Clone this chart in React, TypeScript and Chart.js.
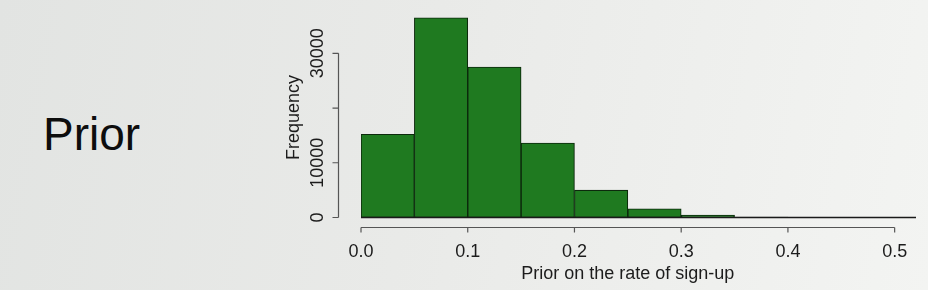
import React, { useEffect, useRef } from "react";
import { Chart, registerables } from "chart.js";

Chart.register(...registerables);

// ---- data ----
const binStarts = [0, 0.05, 0.1, 0.15, 0.2, 0.25, 0.3, 0.35, 0.4, 0.45, 0.5];
const binWidth = 0.05;
const frequencies = [15200, 36500, 27500, 13600, 5000, 1600, 450, 60, 0, 0, 0];
const xTicks = [0, 0.1, 0.2, 0.3, 0.4, 0.5];
const xTickLabels = ["0.0", "0.1", "0.2", "0.3", "0.4", "0.5"];
const yTicks = [0, 10000, 20000, 30000];
const yTickLabels = ["0", "10000", "", "30000"];
const xTitle = "Prior on the rate of sign-up";
const yTitle = "Frequency";
const slideTitle = "Prior";

const FONT = '"Liberation Sans", Arial, Helvetica, sans-serif';

const rAxesPlugin = {
  id: "rAxes",
  afterDraw(chart: any) {
    const { ctx, scales } = chart;
    const xs = scales.x;
    const ys = scales.y;
    const y0 = ys.getPixelForValue(0);
    ctx.save();

    // baseline of empty bins
    ctx.strokeStyle = "#1a1a1a";
    ctx.lineWidth = 1.3;
    ctx.beginPath();
    ctx.moveTo(xs.getPixelForValue(binStarts[0]), y0);
    ctx.lineTo(xs.right, y0);
    ctx.stroke();

    ctx.strokeStyle = "#555";
    ctx.fillStyle = "#1c1c1c";
    ctx.lineWidth = 1.2;
    ctx.font = `18px ${FONT}`;

    // y axis
    const ax = xs.left - 22.5;
    ctx.beginPath();
    ctx.moveTo(ax, ys.getPixelForValue(yTicks[0]));
    ctx.lineTo(ax, ys.getPixelForValue(yTicks[yTicks.length - 1]));
    yTicks.forEach((t) => {
      const p = ys.getPixelForValue(t);
      ctx.moveTo(ax, p);
      ctx.lineTo(ax - 6, p);
    });
    ctx.stroke();
    yTicks.forEach((t, i) => {
      const lbl = yTickLabels[i];
      if (!lbl) return;
      const p = ys.getPixelForValue(t);
      ctx.save();
      ctx.translate(ax - 15.5, p);
      ctx.rotate(-Math.PI / 2);
      ctx.textAlign = "center";
      ctx.textBaseline = "alphabetic";
      ctx.fillText(lbl, 0, 0);
      ctx.restore();
    });

    // x axis
    const ay = y0 + 10;
    ctx.beginPath();
    ctx.moveTo(xs.getPixelForValue(xTicks[0]), ay);
    ctx.lineTo(xs.getPixelForValue(xTicks[xTicks.length - 1]), ay);
    xTicks.forEach((t) => {
      const p = xs.getPixelForValue(t);
      ctx.moveTo(p, ay);
      ctx.lineTo(p, ay + 5);
    });
    ctx.stroke();
    ctx.textAlign = "center";
    ctx.textBaseline = "alphabetic";
    xTicks.forEach((t, i) => {
      ctx.fillText(xTickLabels[i], xs.getPixelForValue(t), ay + 29);
    });

    // axis titles
    const xMid = (xTicks[0] + xTicks[xTicks.length - 1]) / 2;
    ctx.fillText(xTitle, xs.getPixelForValue(xMid), ay + 51);
    ctx.save();
    ctx.translate(ax - 39.5, (ys.getPixelForValue(0) + ys.top) / 2 + 4);
    ctx.rotate(-Math.PI / 2);
    ctx.textAlign = "center";
    ctx.fillText(yTitle, 0, 0);
    ctx.restore();

    ctx.restore();
  },
};

export default function App() {
  const canvasRef = useRef<HTMLCanvasElement | null>(null);

  useEffect(() => {
    const canvas = canvasRef.current;
    if (!canvas) return;
    const points = binStarts.map((s, i) => ({ x: s + binWidth / 2, y: frequencies[i] }));
    const chart = new Chart(canvas, {
      type: "bar",
      data: {
        datasets: [
          {
            data: points as any,
            backgroundColor: "#1f7a20",
            borderColor: "#0c2a0c",
            borderWidth: 1.1,
            borderSkipped: false,
            barPercentage: 1,
            categoryPercentage: 1,
          },
        ],
      },
      options: {
        animation: false,
        responsive: false,
        devicePixelRatio: 1,
        layout: { padding: { left: 361, right: 12, top: 9.5, bottom: 72.5 } },
        scales: {
          x: { type: "linear", min: 0, max: 0.52, offset: false, display: false, ticks: { stepSize: 0.1 } },
          y: { type: "linear", min: 0, max: 38000, display: false },
        },
        plugins: { legend: { display: false }, tooltip: { enabled: false } },
      },
      plugins: [rAxesPlugin],
    });
    return () => chart.destroy();
  }, []);

  return (
    <div
      style={{
        position: "absolute",
        left: 0,
        top: 0,
        width: 928,
        height: 290,
        overflow: "hidden",
        background: "linear-gradient(100deg, #e2e4e2 0%, #e9eae8 45%, #f3f4f2 100%)",
      }}
    >
      <div
        style={{
          position: "absolute",
          left: 43,
          top: 111,
          fontFamily: FONT,
          fontSize: 46,
          lineHeight: "46px",
          color: "#0d0d0d",
          whiteSpace: "nowrap",
        }}
      >
        {slideTitle}
      </div>
      <canvas
        ref={canvasRef}
        width={928}
        height={290}
        style={{ position: "absolute", left: 0, top: 0, width: 928, height: 290 }}
      />
    </div>
  );
}
